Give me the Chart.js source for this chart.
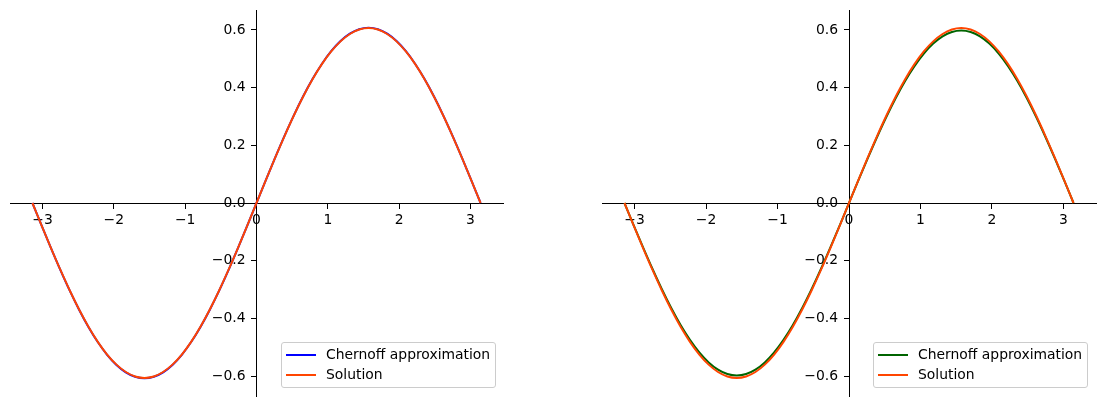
<!DOCTYPE html>
<html>
<head>
<meta charset="utf-8">
<script src="https://cdn.jsdelivr.net/npm/chart.js@4/dist/chart.umd.min.js"></script>
<style>
  html, body { margin:0; padding:0; background:#fff; }
  body { width:1104px; height:405px; position:relative; overflow:hidden; font-family:"DejaVu Sans", sans-serif; }
  .panel { position:absolute; top:0; width:552px; height:405px; }
  .legend { position:absolute; width:213px; height:44px; border:1px solid #cccccc; border-radius:3px; background:rgba(255,255,255,0.8); font-size:13.9px; color:#000; }
  .legend .row { position:absolute; left:0; height:20px; }
  .legend .swatch { position:absolute; left:4px; width:30px; height:2px; }
  .legend .txt { position:absolute; left:44px; white-space:nowrap; line-height:16px; }
</style>
</head>
<body>
<div class="panel" style="left:0"><canvas id="chartLeft" width="552" height="405"></canvas></div>
<div class="panel" style="left:552px"><canvas id="chartRight" width="552" height="405"></canvas></div>
<div class="legend" id="legendLeft" style="left:281px;top:342px"></div>
<div class="legend" id="legendRight" style="left:873px;top:342px"></div>
<script>
// x grid: -pi .. pi in steps of pi/24
const xs = [-3.1416,-3.0107,-2.8798,-2.7489,-2.6180,-2.4871,-2.3562,-2.2253,-2.0944,-1.9635,-1.8326,-1.7017,-1.5708,
  -1.4399,-1.3090,-1.1781,-1.0472,-0.9163,-0.7854,-0.6545,-0.5236,-0.3927,-0.2618,-0.1309,0,
  0.1309,0.2618,0.3927,0.5236,0.6545,0.7854,0.9163,1.0472,1.1781,1.3090,1.4399,1.5708,
  1.7017,1.8326,1.9635,2.0944,2.2253,2.3562,2.4871,2.6180,2.7489,2.8798,3.0107,3.1416];

const solution = [0,-0.0792,-0.1570,-0.2321,-0.3033,-0.3692,-0.4289,-0.4812,-0.5253,-0.5603,-0.5858,-0.6013,-0.6065,
  -0.6013,-0.5858,-0.5603,-0.5253,-0.4812,-0.4289,-0.3692,-0.3033,-0.2321,-0.1570,-0.0792,0,
  0.0792,0.1570,0.2321,0.3033,0.3692,0.4289,0.4812,0.5253,0.5603,0.5858,0.6013,0.6065,
  0.6013,0.5858,0.5603,0.5253,0.4812,0.4289,0.3692,0.3033,0.2321,0.1570,0.0792,0];

const chernoffLeft = [0,-0.0793,-0.1572,-0.2325,-0.3038,-0.3698,-0.4296,-0.4820,-0.5261,-0.5613,-0.5868,-0.6023,-0.6075,
  -0.6023,-0.5868,-0.5613,-0.5261,-0.4820,-0.4296,-0.3698,-0.3038,-0.2325,-0.1572,-0.0793,0,
  0.0793,0.1572,0.2325,0.3038,0.3698,0.4296,0.4820,0.5261,0.5613,0.5868,0.6023,0.6075,
  0.6023,0.5868,0.5613,0.5261,0.4820,0.4296,0.3698,0.3038,0.2325,0.1572,0.0793,0];

const chernoffRight = [0,-0.0781,-0.1548,-0.2288,-0.2990,-0.3640,-0.4229,-0.4744,-0.5179,-0.5525,-0.5776,-0.5929,-0.5980,
  -0.5929,-0.5776,-0.5525,-0.5179,-0.4744,-0.4229,-0.3640,-0.2990,-0.2288,-0.1548,-0.0781,0,
  0.0781,0.1548,0.2288,0.2990,0.3640,0.4229,0.4744,0.5179,0.5525,0.5776,0.5929,0.5980,
  0.5929,0.5776,0.5525,0.5179,0.4744,0.4229,0.3640,0.2990,0.2288,0.1548,0.0781,0];

const xTicks = [-3,-2,-1,0,1,2,3];
const yTicks = [-0.6,-0.4,-0.2,0.0,0.2,0.4,0.6];
const xLimits = [-3.456, 3.456];
const yLimits = [-0.669, 0.669];
const seriesLabels = ['Chernoff approximation', 'Solution'];
const solutionColor = '#ff4500';

const fmt = (v, d) => (v < 0 ? '\u2212' : '') + Math.abs(v).toFixed(d);
const toPts = ys => xs.map((x, i) => ({x, y: ys[i]}));

// limits are symmetric, so 'center' puts each spine at zero
function axisOpts(min, max, ticks, digits, padding) {
  return {
    type: 'linear', min, max, position: 'center',
    afterBuildTicks: s => { s.ticks = ticks.map(v => ({value: v})); },
    afterFit: s => {
      s.width = 0; s.height = 0;
      s.paddingTop = s.paddingBottom = s.paddingLeft = s.paddingRight = 0;
    },
    border: {display: true, color: '#000', width: 1},
    grid: {drawOnChartArea: false, drawTicks: true, tickLength: 5, color: '#000', tickWidth: 1},
    ticks: {color: '#000', font: {family: 'DejaVu Sans', size: 13.9}, padding, autoSkip: false,
      maxRotation: 0, callback: v => fmt(v, digits)}
  };
}

function makeChart(id, chernoff, chernoffColor, pad) {
  return new Chart(document.getElementById(id), {
    type: 'line',
    data: {datasets: [
      {label: seriesLabels[0], data: toPts(chernoff), borderColor: chernoffColor, borderWidth: 2, pointRadius: 0, cubicInterpolationMode: 'monotone', order: 2},
      {label: seriesLabels[1], data: toPts(solution), borderColor: solutionColor, borderWidth: 2, pointRadius: 0, cubicInterpolationMode: 'monotone', order: 1}
    ]},
    options: {
      responsive: false, animation: false, devicePixelRatio: 1,
      layout: {padding: pad},
      plugins: {legend: {display: false}, tooltip: {enabled: false}},
      scales: {
        x: axisOpts(xLimits[0], xLimits[1], xTicks, 0, 4),
        y: axisOpts(yLimits[0], yLimits[1], yTicks, 1, 6)
      }
    }
  });
}

function buildLegend(id, colors) {
  const box = document.getElementById(id);
  seriesLabels.forEach((lbl, i) => {
    const row = document.createElement('div');
    row.className = 'row';
    row.style.top = (3 + i * 20) + 'px';
    row.innerHTML = `<div class="swatch" style="top:8px;background:${colors[i]}"></div><div class="txt" style="top:0">${lbl}</div>`;
    box.appendChild(row);
  });
}

makeChart('chartLeft', chernoffLeft, '#0000ff', {left: 10, right: 49, top: 10, bottom: 9});
makeChart('chartRight', chernoffRight, '#006400', {left: 50, right: 8, top: 10, bottom: 9});
buildLegend('legendLeft', ['#0000ff', solutionColor]);
buildLegend('legendRight', ['#006400', solutionColor]);
</script>
</body>
</html>
